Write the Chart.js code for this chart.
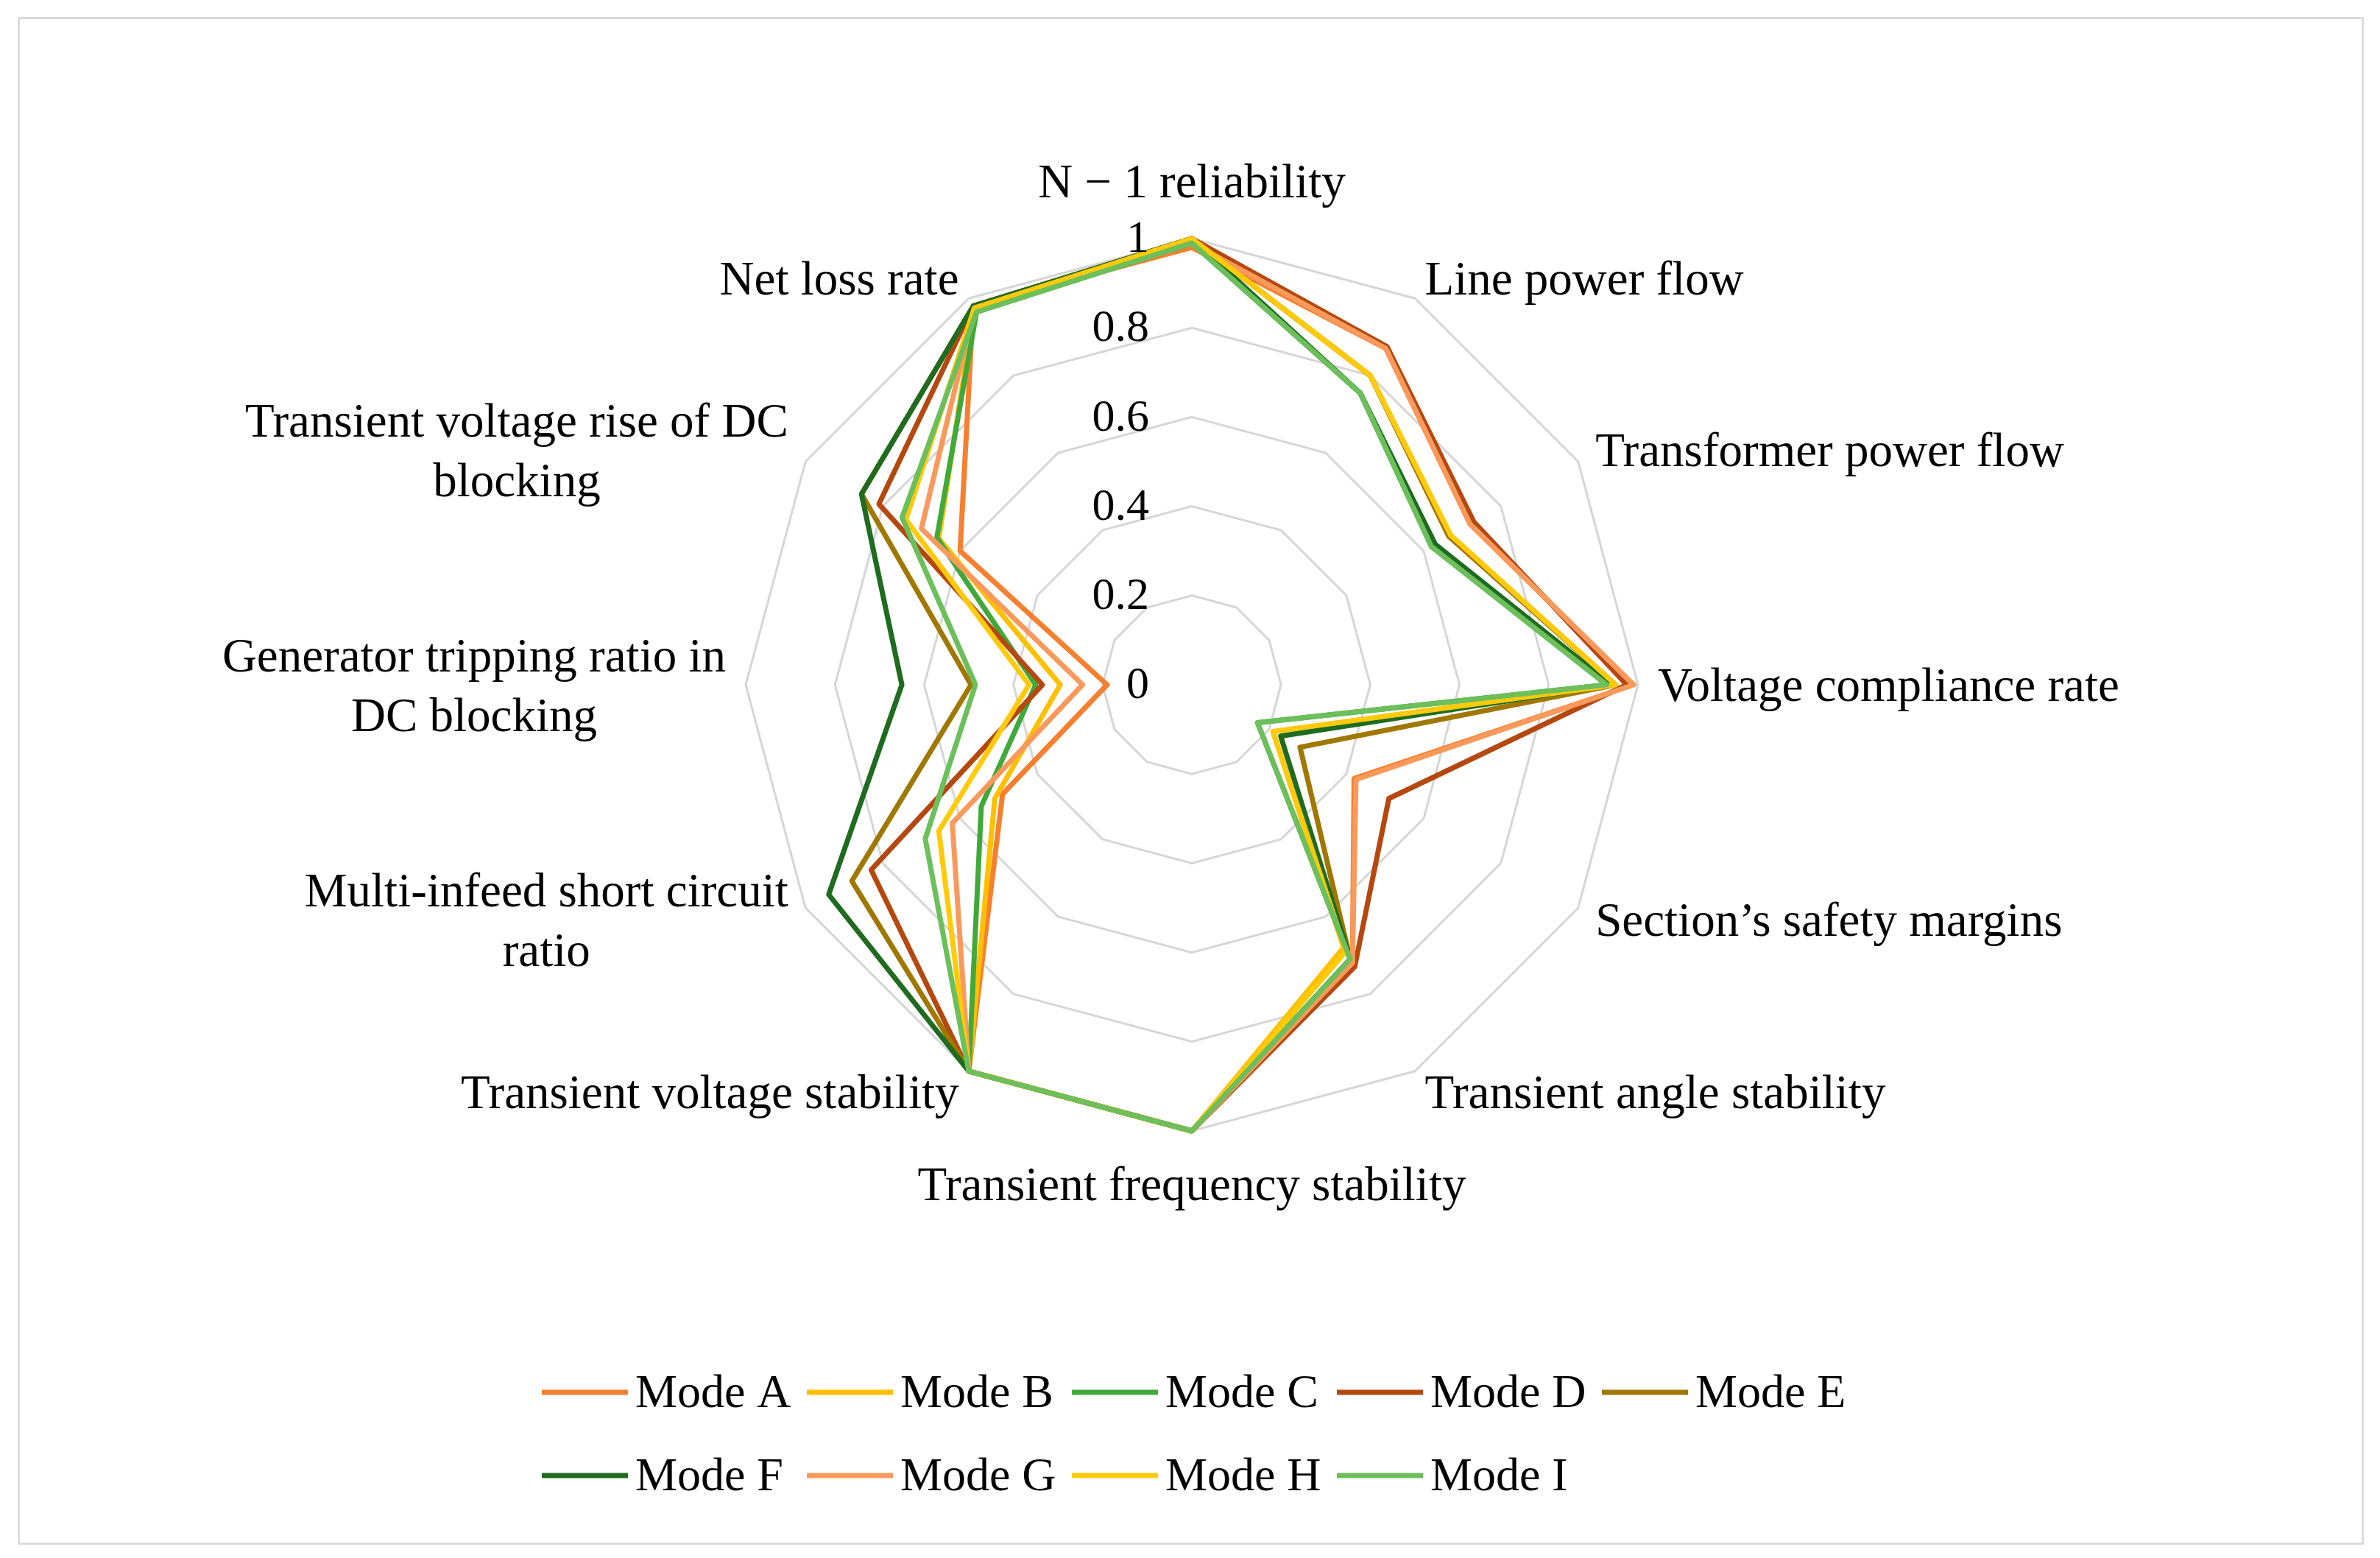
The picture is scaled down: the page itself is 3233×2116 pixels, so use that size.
<!DOCTYPE html>
<html>
<head>
<meta charset="utf-8">
<script src="https://cdn.jsdelivr.net/npm/chart.js@4.4.1/dist/chart.umd.min.js"></script>
<style>
html, body { margin: 0; padding: 0; background: #fff; }
#frame { position: absolute; left: 24px; top: 23px; width: 3181px; height: 2069px; border: 3px solid #dcdcdc; }
#chart { position: absolute; left: 0; top: 0; }
</style>
</head>
<body>
<div id="frame"></div>
<canvas id="chart" width="3233" height="2116"></canvas>
<script>
// axes, clockwise from the top
const categories = [
    ["N \u2212 1 reliability"],
    ["Line power flow"],
    ["Transformer power flow"],
    ["Voltage compliance rate"],
    ["Section\u2019s safety margins"],
    ["Transient angle stability"],
    ["Transient frequency stability"],
    ["Transient voltage stability"],
    ["Multi-infeed short circuit", "ratio"],
    ["Generator tripping ratio in", "DC blocking"],
    ["Transient voltage rise of DC", "blocking"],
    ["Net loss rate"]
];

const modeNames = ["Mode A", "Mode B", "Mode C", "Mode D", "Mode E", "Mode F", "Mode G", "Mode H", "Mode I"];
const modeColors = ["#F6802F", "#FFC000", "#40A93A", "#B5480F", "#A07800", "#1F6B1F", "#F99A5C", "#FFCA0A", "#6CBF5B"];

const modeA = [0.98, 0.87, 0.72, 0.99, 0.42, 0.72, 1.0, 1.0, 0.49, 0.19, 0.60, 0.98];
const modeB = [1.0, 0.80, 0.67, 0.95, 0.21, 0.68, 1.0, 1.0, 0.51, 0.295, 0.655, 0.975];
const modeC = [0.99, 0.755, 0.62, 0.93, 0.17, 0.71, 1.0, 1.0, 0.545, 0.35, 0.66, 0.965];
const modeD = [1.0, 0.875, 0.73, 0.975, 0.51, 0.73, 1.0, 1.0, 0.83, 0.335, 0.81, 0.98];
const modeE = [1.0, 0.80, 0.665, 0.95, 0.28, 0.71, 1.0, 1.0, 0.88, 0.495, 0.855, 0.98];
const modeF = [1.0, 0.755, 0.63, 0.94, 0.23, 0.71, 1.0, 1.0, 0.94, 0.65, 0.855, 0.98];
const modeG = [0.99, 0.87, 0.72, 0.99, 0.425, 0.72, 1.0, 1.0, 0.62, 0.245, 0.70, 0.975];
const modeH = [1.0, 0.80, 0.67, 0.95, 0.21, 0.69, 1.0, 1.0, 0.655, 0.365, 0.74, 0.975];
const modeI = [0.99, 0.755, 0.62, 0.93, 0.17, 0.71, 1.0, 1.0, 0.69, 0.485, 0.75, 0.965];

const tickValues = [0, 0.2, 0.4, 0.6, 0.8, 1];
const tickLabels = ["0", "0.2", "0.4", "0.6", "0.8", "1"];

const seriesValues = [modeA, modeB, modeC, modeD, modeE, modeF, modeG, modeH, modeI];

const FONT = "'Liberation Serif', 'Times New Roman', serif";
Chart.defaults.font.family = FONT;

// tick labels sit left of the top spoke, centred on their ring
const tickPlugin = {
    id: "sideTicks",
    afterDatasetsDraw(chart) {
        const {ctx} = chart;
        const scale = chart.scales.r;
        ctx.save();
        ctx.font = "62px " + FONT;
        ctx.fillStyle = "#000";
        ctx.textAlign = "right";
        ctx.textBaseline = "middle";
        tickValues.forEach((v, i) => {
            const p = scale.getPointPositionForValue(0, v);
            ctx.fillText(tickLabels[i], p.x - 58, p.y + 2);
        });
        ctx.restore();
    }
};

// point labels with centred multi-line blocks
const labelPlugin = {
    id: "blockLabels",
    afterDraw(chart) {
        const {ctx} = chart;
        const scale = chart.scales.r;
        const lineH = 81;
        ctx.save();
        ctx.font = "65px " + FONT;
        ctx.fillStyle = "#000";
        ctx.textAlign = "center";
        ctx.textBaseline = "middle";
        chart.data.labels.forEach((lab, i) => {
            const lines = Array.isArray(lab) ? lab : [lab];
            const p = scale.getPointPosition(i, scale.drawingArea + 27);
            const a = scale.getIndexAngle(i);
            const s = Math.sin(a), c = Math.cos(a);
            const w = Math.max(...lines.map(t => ctx.measureText(t).width));
            let cx = p.x, cy = p.y + 5;
            if (Math.abs(s) < 0.01) {
                cy = c > 0 ? p.y - 46 : p.y + 50;
            } else {
                cx = s > 0 ? p.x + w / 2 : p.x - w / 2;
                cy = p.y + 5 - c * 5;
            }
            const top = cy - (lines.length - 1) * lineH / 2;
            lines.forEach((t, k) => ctx.fillText(t, cx, top + k * lineH));
        });
        ctx.restore();
    }
};

// legend: two rows, fixed columns
const legendPlugin = {
    id: "rowLegend",
    afterDraw(chart) {
        const {ctx} = chart;
        ctx.save();
        ctx.font = "64px " + FONT;
        ctx.fillStyle = "#000";
        ctx.textAlign = "left";
        ctx.textBaseline = "middle";
        ctx.lineCap = "butt";
        chart.data.datasets.forEach((ds, i) => {
            const col = i % 5, row = Math.floor(i / 5);
            const x = 736 + col * 360, y = 1891 + row * 113;
            ctx.strokeStyle = ds.borderColor;
            ctx.lineWidth = 7;
            ctx.beginPath();
            ctx.moveTo(x, y);
            ctx.lineTo(x + 117, y);
            ctx.stroke();
            ctx.fillText(ds.label, x + 127, y + 3);
        });
        ctx.restore();
    }
};

new Chart("chart", {
    type: "radar",
    data: {
        labels: categories,
        datasets: seriesValues.map((vals, i) => ({
            label: modeNames[i],
            data: vals,
            borderColor: modeColors[i],
            backgroundColor: modeColors[i],
            borderWidth: 7,
            borderJoinStyle: "round",
            fill: false,
            pointRadius: 0,
            order: seriesValues.length - i
        }))
    },
    options: {
        responsive: false,
        devicePixelRatio: 1,
        animation: false,
        layout: {padding: {top: 324, bottom: 580, left: 6, right: 0}},
        elements: {line: {tension: 0}},
        plugins: {legend: {display: false}, tooltip: {enabled: false}},
        scales: {
            r: {
                min: 0,
                max: 1,
                ticks: {stepSize: 0.2, display: false},
                grid: {color: "#d6d6d6", lineWidth: 3},
                angleLines: {display: false},
                pointLabels: {display: false}
            }
        }
    },
    plugins: [tickPlugin, labelPlugin, legendPlugin]
});
</script>
</body>
</html>
